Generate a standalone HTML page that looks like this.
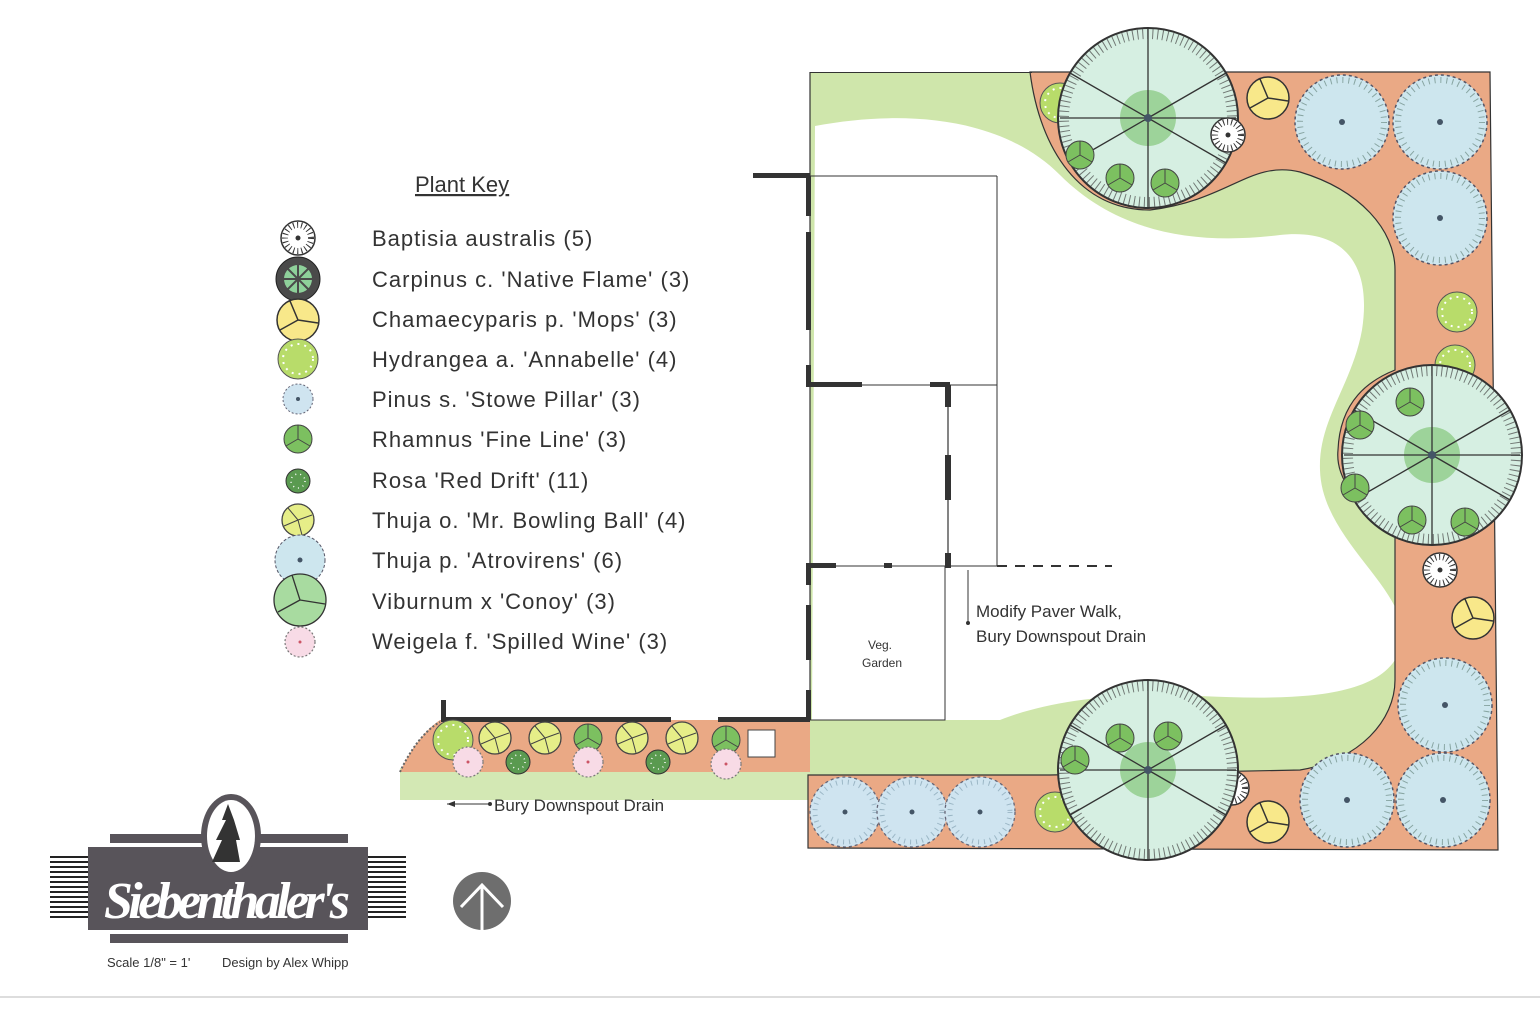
<!DOCTYPE html>
<html><head><meta charset="utf-8"><style>
html,body{margin:0;padding:0;background:#fff;width:1540px;height:1009px;overflow:hidden}
svg{display:block}
.t{font-family:"Liberation Sans",sans-serif;fill:#333}
</style></head><body>
<svg width="1540" height="1009" viewBox="0 0 1540 1009" xmlns="http://www.w3.org/2000/svg">
<defs>
<g id="bl"><circle r="47" fill="#cde6ee" stroke="#556" stroke-width="1.5" stroke-dasharray="3 3"/><circle r="42" fill="none" stroke="#5a7a70" stroke-width="6" stroke-dasharray="1 5" opacity=".6"/><circle r="3" fill="#456"/></g>
<g id="sb"><circle r="35" fill="#cfe4f0" stroke="#667" stroke-width="1.3" stroke-dasharray="3 3"/><circle r="30" fill="none" stroke="#7a9aaa" stroke-width="5" stroke-dasharray="1 5" opacity=".6"/><circle r="2.5" fill="#456"/></g>
<g id="tree"><circle r="90" fill="#d6efe2" stroke="#333" stroke-width="2"/><circle r="84" fill="none" stroke="#444" stroke-width="10" stroke-dasharray="1 4" opacity=".7"/><circle r="28" fill="#8fcc88" opacity=".8"/>
<g stroke="#333" stroke-width="1.3"><line x1="0" y1="0" x2="0" y2="-90"/><line x1="0" y1="0" x2="78" y2="-45"/><line x1="0" y1="0" x2="78" y2="45"/><line x1="0" y1="0" x2="0" y2="90"/><line x1="0" y1="0" x2="-78" y2="45"/><line x1="0" y1="0" x2="-78" y2="-45"/><line x1="0" y1="0" x2="-88" y2="0"/><line x1="0" y1="0" x2="88" y2="0"/></g>
<circle r="4" fill="#456"/></g>
<g id="ye"><circle r="21" fill="#f8e88a" stroke="#333" stroke-width="1.5"/><path d="M0,0 L-8,-19 M0,0 L20,3 M0,0 L-18,10" stroke="#333" stroke-width="1.5"/></g>
<g id="hy"><circle r="20" fill="#b8dc6a" stroke="#555" stroke-width="1"/><circle r="15" fill="none" stroke="#fff" stroke-width="2" stroke-dasharray="2 5"/></g>
<g id="rh"><circle r="14" fill="#7cc060" stroke="#444" stroke-width="1"/><path d="M0,0 L0,-14 M0,0 L12,7 M0,0 L-12,7" stroke="#444"/></g>
<g id="rs"><circle r="12" fill="#5a9a50" stroke="#333" stroke-width="1"/><circle r="7" fill="none" stroke="#fff" stroke-width="1.5" stroke-dasharray="1 4"/></g>
<g id="to"><circle r="16" fill="#e6ee88" stroke="#444" stroke-width="1.3"/><path d="M0,0 L-10,-12 M0,0 L14,-5 M0,0 L-14,6 M0,0 L4,15" stroke="#444"/></g>
<g id="wg"><circle r="15" fill="#f8dbe6" stroke="#777" stroke-width="1.2" stroke-dasharray="2 2"/><circle r="1.5" fill="#c56"/></g>
<g id="bp"><circle r="17" fill="#fff" stroke="#333" stroke-width="1.5"/><circle r="13" fill="none" stroke="#333" stroke-width="6" stroke-dasharray="1 3"/><circle r="2.5" fill="#333"/></g>
</defs>

<rect x="810" y="72" width="600" height="705" fill="#cfe6ab"/>
<rect x="400" y="768" width="410" height="32" fill="#d3e8b4"/>
<path d="M815,126 C900,110 1000,115 1060,175 C1120,235 1200,245 1280,235 C1345,228 1372,265 1362,330 C1352,385 1318,420 1320,470 C1322,545 1420,595 1400,650 C1382,700 1290,700 1200,696 C1120,692 1050,700 1000,720 L812,720 Z" fill="#fff"/>
<path d="M1030,72 L1490,72 L1498,850 L808,848 L808,775 L1050,775 L1300,770 C1360,760 1395,720 1395,680 L1395,520 C1360,510 1335,480 1338,450 C1340,400 1370,380 1395,370 L1395,270 C1395,230 1360,190 1300,172 C1250,160 1230,200 1150,210 C1080,210 1040,150 1030,72 Z" fill="#eaa985" stroke="#333" stroke-width="1.2"/>
<path d="M440,720 L810,720 L810,772 L440,772 C420,772 405,772 400,772 C410,750 425,730 440,720 Z" fill="#eaa985"/>
<path d="M400,772 C410,750 425,730 440,722" fill="none" stroke="#666" stroke-width="2" stroke-dasharray="2 2"/>
<rect x="810" y="72" width="222" height="1" fill="#333"/>

<g stroke="#333" fill="none">
<line x1="810" y1="72" x2="810" y2="720" stroke-width="1.2"/>
<line x1="810" y1="176" x2="997" y2="176" stroke-width="1"/>
<line x1="997" y1="176" x2="997" y2="566" stroke-width="1"/>
<line x1="810" y1="385" x2="997" y2="385" stroke-width="1"/>
<line x1="948" y1="385" x2="948" y2="566" stroke-width="1.2"/>
<line x1="810" y1="566" x2="997" y2="566" stroke-width="1"/>
<line x1="997" y1="566" x2="1112" y2="566" stroke-width="2" stroke-dasharray="10 8"/>
<rect x="810" y="566" width="135" height="154" stroke-width="1"/>
</g>
<g fill="#333">
<rect x="753" y="173" width="57" height="5"/><rect x="806" y="176" width="5" height="40"/><rect x="806" y="232" width="5" height="98"/><rect x="806" y="365" width="5" height="22"/>
<rect x="806" y="382" width="56" height="5"/><rect x="930" y="382" width="20" height="5"/>
<rect x="945" y="385" width="6" height="22"/><rect x="945" y="455" width="6" height="45"/><rect x="945" y="553" width="6" height="15"/>
<rect x="806" y="563" width="30" height="5"/><rect x="884" y="563" width="8" height="5"/><rect x="806" y="563" width="5" height="22"/>
<rect x="806" y="605" width="5" height="55"/><rect x="806" y="690" width="5" height="30"/>
<rect x="441" y="717" width="230" height="5"/><rect x="718" y="717" width="92" height="5"/><rect x="441" y="700" width="5" height="20"/>
</g>

<use href="#hy" x="1060" y="103"/>
<use href="#tree" x="1148" y="118"/>
<use href="#rh" x="1080" y="155"/><use href="#rh" x="1120" y="178"/><use href="#rh" x="1165" y="183"/>
<use href="#bp" x="1228" y="135"/>
<use href="#ye" x="1268" y="98"/>
<use href="#bl" x="1342" y="122"/><use href="#bl" x="1440" y="122"/><use href="#bl" x="1440" y="218"/>
<use href="#hy" x="1457" y="312"/><use href="#hy" x="1455" y="365"/>
<use href="#tree" x="1432" y="455"/>
<use href="#rh" x="1410" y="402"/><use href="#rh" x="1360" y="425"/><use href="#rh" x="1355" y="488"/><use href="#rh" x="1412" y="520"/><use href="#rh" x="1465" y="522"/>
<use href="#bp" x="1440" y="570"/>
<use href="#ye" x="1473" y="618"/>
<use href="#bl" x="1445" y="705"/><use href="#bl" x="1347" y="800"/><use href="#bl" x="1443" y="800"/>
<use href="#ye" x="1268" y="822"/>
<use href="#hy" x="1055" y="812"/><use href="#bp" x="1232" y="788"/>
<use href="#tree" x="1148" y="770"/>
<use href="#rh" x="1075" y="760"/><use href="#rh" x="1120" y="738"/><use href="#rh" x="1168" y="736"/>
<use href="#sb" x="845" y="812"/><use href="#sb" x="912" y="812"/><use href="#sb" x="980" y="812"/>
<use href="#hy" x="453" y="740"/><use href="#to" x="495" y="738"/><use href="#to" x="545" y="738"/><use href="#rh" x="588" y="738"/><use href="#to" x="632" y="738"/><use href="#to" x="682" y="738"/><use href="#rh" x="726" y="740"/>
<use href="#wg" x="468" y="762"/><use href="#rs" x="518" y="762"/><use href="#wg" x="588" y="762"/><use href="#rs" x="658" y="762"/><use href="#wg" x="726" y="764"/>
<rect x="748" y="730" width="27" height="27" fill="#fff" stroke="#444"/>

<text class="t" x="880" y="649" font-size="12" text-anchor="middle">Veg.</text>
<text class="t" x="882" y="667" font-size="12" text-anchor="middle">Garden</text>
<line x1="968" y1="570" x2="968" y2="622" stroke="#333"/><circle cx="968" cy="623" r="2" fill="#333"/>
<text class="t" x="976" y="617" font-size="17">Modify Paver Walk,</text>
<text class="t" x="976" y="642" font-size="17">Bury Downspout Drain</text>
<line x1="447" y1="804" x2="490" y2="804" stroke="#333"/><path d="M447,804 l8,-3 v6 z" fill="#333"/><circle cx="490" cy="804" r="2" fill="#333"/>
<text class="t" x="494" y="811" font-size="17">Bury Downspout Drain</text>

<text class="t" x="415" y="192" font-size="22" text-decoration="underline">Plant Key</text>
<use href="#bp" x="298" y="238"/>
<g transform="translate(298,279)"><circle r="22" fill="#4a4a4a" stroke="#222"/><circle r="14" fill="#8ed09a"/><path d="M0,-20 V20 M-20,0 H20 M-14,-14 L14,14 M-14,14 L14,-14" stroke="#4a4a4a" stroke-width="2"/></g>
<use href="#ye" x="298" y="320"/>
<use href="#hy" x="298" y="359"/>
<g transform="translate(298,399)"><circle r="15" fill="#cfe4f0" stroke="#667" stroke-dasharray="2 2"/><circle r="2" fill="#456"/></g>
<use href="#rh" x="298" y="439"/>
<use href="#rs" x="298" y="481"/>
<use href="#to" x="298" y="520"/>
<g transform="translate(300,560)"><circle r="25" fill="#cde6ee" stroke="#556" stroke-dasharray="3 2"/><circle r="2.5" fill="#456"/></g>
<g transform="translate(300,600)"><circle r="26" fill="#a8dba0" stroke="#333" stroke-width="1.3"/><path d="M0,0 L-8,-25 M0,0 L25,4 M0,0 L-22,12" stroke="#333" stroke-width="1.3"/></g>
<use href="#wg" x="300" y="642"/>
<g class="t" font-size="22" letter-spacing="1">
<text x="372" y="246">Baptisia australis (5)</text>
<text x="372" y="287">Carpinus c. 'Native Flame' (3)</text>
<text x="372" y="327">Chamaecyparis p. 'Mops' (3)</text>
<text x="372" y="367">Hydrangea a. 'Annabelle' (4)</text>
<text x="372" y="407">Pinus s. 'Stowe Pillar' (3)</text>
<text x="372" y="447">Rhamnus 'Fine Line' (3)</text>
<text x="372" y="488">Rosa 'Red Drift' (11)</text>
<text x="372" y="528">Thuja o. 'Mr. Bowling Ball' (4)</text>
<text x="372" y="568">Thuja p. 'Atrovirens' (6)</text>
<text x="372" y="609">Viburnum x 'Conoy' (3)</text>
<text x="372" y="649">Weigela f. 'Spilled Wine' (3)</text>
</g>

<rect x="110" y="834" width="238" height="9" fill="#58545a"/>
<rect x="110" y="934" width="238" height="9" fill="#58545a"/>
<rect x="88" y="847" width="280" height="83" fill="#58545a"/>
<g fill="#222">
<rect x="50" y="856" width="38" height="2"/><rect x="50" y="861" width="38" height="2"/><rect x="50" y="866" width="38" height="2"/><rect x="50" y="871" width="38" height="2"/><rect x="50" y="876" width="38" height="2"/><rect x="50" y="881" width="38" height="2"/><rect x="50" y="886" width="38" height="2"/><rect x="50" y="891" width="38" height="2"/><rect x="50" y="896" width="38" height="2"/><rect x="50" y="901" width="38" height="2"/><rect x="50" y="906" width="38" height="2"/><rect x="50" y="911" width="38" height="2"/><rect x="50" y="916" width="38" height="2"/>
<rect x="368" y="856" width="38" height="2"/><rect x="368" y="861" width="38" height="2"/><rect x="368" y="866" width="38" height="2"/><rect x="368" y="871" width="38" height="2"/><rect x="368" y="876" width="38" height="2"/><rect x="368" y="881" width="38" height="2"/><rect x="368" y="886" width="38" height="2"/><rect x="368" y="891" width="38" height="2"/><rect x="368" y="896" width="38" height="2"/><rect x="368" y="901" width="38" height="2"/><rect x="368" y="906" width="38" height="2"/><rect x="368" y="911" width="38" height="2"/><rect x="368" y="916" width="38" height="2"/>
</g>
<ellipse cx="231" cy="836" rx="30" ry="42" fill="#58545a"/>
<ellipse cx="231" cy="836" rx="24" ry="36" fill="#fff"/>
<path d="M228,804 L222,820 L226,820 L216,840 L222,840 L212,862 L240,862 L236,840 L240,840 L234,820 Z" fill="#333"/>
<text x="104" y="918" font-family="Liberation Serif,serif" font-style="italic" font-weight="bold" font-size="52" fill="#fff" textLength="246">Siebenthaler's</text>
<text class="t" x="107" y="967" font-size="13">Scale 1/8" = 1'</text>
<text class="t" x="222" y="967" font-size="13">Design by Alex Whipp</text>
<circle cx="482" cy="901" r="29" fill="#6e6e6e"/>
<path d="M461,907 L482,885 L503,907 M482,885 V930" stroke="#fff" stroke-width="3" fill="none"/>
<line x1="0" y1="997" x2="1540" y2="997" stroke="#ddd" stroke-width="2"/>
</svg>
</body></html>
